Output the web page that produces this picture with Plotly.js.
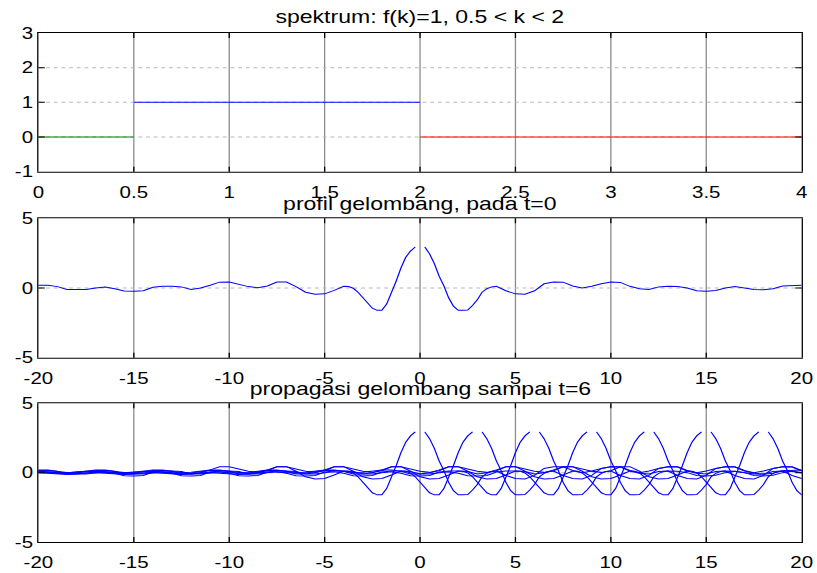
<!DOCTYPE html>
<html>
<head>
<meta charset="utf-8">
<script src="https://cdn.plot.ly/plotly-3.0.1.min.js"></script>
<style>
html,body{margin:0;padding:0;background:#fff;}
#wrap{width:817px;height:573px;overflow:hidden;position:relative;}
#plot{width:638px;height:573px;transform:scaleX(1.2806);transform-origin:0 0;}
#plot .crisp, #plot path.crisp, #plot .gridlayer path, #plot .xgrid, #plot .ygrid {shape-rendering:auto !important;}
</style>
</head>
<body>
<div id="wrap"><div id="plot"></div></div>
<script>
// ---- spectrum (top panel) ----
const kGreen = [0, 0.5];  const fGreen = [0, 0];
const kBlue  = [0.5, 2];  const fBlue  = [1, 1];
const kRed   = [2, 4];    const fRed   = [0, 0];

// ---- wave profile at t=0 (null at x=0) ----
const profileX = [
 -38,-37.5,-37,-36.5,-36,-35.5,-35,-34.5,-34,-33.5,-33,-32.5,-32,-31.5,-31,-30.5,-30,-29.5,-29,-28.5,
 -28,-27.5,-27,-26.5,-26,-25.5,-25,-24.5,-24,-23.5,-23,-22.5,-22,-21.5,-21,-20.5,
 -20,-19.5,-19,-18.5,-18,-17.5,-17,-16.5,-16,-15.5,-15,-14.5,-14,-13.5,-13,-12.5,-12,-11.5,-11,-10.5,
 -10,-9.5,-9,-8.5,-8,-7.5,-7,-6.5,-6,-5.5,-5,-4.5,-4,
 -3.75,-3.5,-3.25,-3,-2.75,-2.5,-2.25,-2,-1.75,-1.5,-1.25,-1,-0.75,-0.5,-0.25,0,
 0.25,0.5,0.75,1,1.25,1.5,1.75,2,2.25,2.5,2.75,3,3.25,3.5,3.75,
 4,4.5,5,5.5,6,6.5,7,7.5,8,8.5,9,9.5,10,10.5,11,11.5,12,12.5,13,13.5,14,14.5,15,15.5,16,16.5,17,17.5,18,18.5,19,19.5,20
];
const profileY = [
 0.02,-0.02,-0.04,-0.01,0.06,0.10,0.10,0.05,0.00,0.00,0.04,0.08,0.08,0.01,-0.06,-0.09,-0.06,-0.01,0.00,-0.04,
 -0.11,-0.14,-0.10,-0.02,0.04,0.04,-0.02,-0.05,-0.02,0.07,0.15,0.16,0.09,0.01,0.02,0.12,
 0.19,0.19,0.10,-0.10,-0.12,-0.10,0.00,0.07,-0.05,-0.22,-0.24,-0.20,0.05,0.12,0.12,0.08,-0.10,0.00,0.20,0.42,
 0.43,0.25,0.10,0.02,0.14,0.43,0.43,0.10,-0.30,-0.45,-0.42,-0.17,0.12,
 0.10,-0.02,-0.30,-0.70,-1.05,-1.45,-1.60,-1.60,-1.15,-0.40,0.50,1.45,2.20,2.65,2.94,null,
 2.94,2.45,1.75,0.85,0.15,-0.70,-1.30,-1.60,-1.60,-1.58,-1.25,-0.85,-0.30,-0.05,0.08,
 0.12,-0.20,-0.42,-0.45,-0.20,0.30,0.43,0.42,0.15,0.00,0.12,0.30,0.43,0.40,0.12,-0.05,-0.10,0.08,0.12,0.10,0.00,-0.20,-0.24,-0.18,0.00,0.10,-0.02,-0.10,-0.12,-0.05,0.14,0.19,0.19
];

// ---- propagation: profile moved along x for t = 0..6 ----
const shifts = [0, 3, 6, 9, 12, 15, 18];

// ---- ticks ----
const kTicks = [0,0.5,1,1.5,2,2.5,3,3.5,4];
const kTickText = ["0","0.5","1","1.5","2","2.5","3","3.5","4"];
const fTicks = [-1,0,1,2,3];
const fTickText = ["-1","0","1","2","3"];
const xTicks = [-20,-15,-10,-5,0,5,10,15,20];
const xTickText = ["-20","-15","-10","-5","0","5","10","15","20"];
const yTicks = [-5,0,5];
const yTickText = ["-5","0","5"];

const titles = ["spektrum: f(k)=1, 0.5 < k < 2", "profil gelombang, pada t=0", "propagasi gelombang sampai t=6"];

const FONT = "Liberation Sans, Arial, Helvetica, sans-serif";
const lineW = 1;

const traces = [
  {x:kGreen, y:fGreen, mode:'lines', line:{color:'#008000', width:lineW}, xaxis:'x', yaxis:'y'},
  {x:kBlue,  y:fBlue,  mode:'lines', line:{color:'#0000FF', width:lineW}, xaxis:'x', yaxis:'y'},
  {x:kRed,   y:fRed,   mode:'lines', line:{color:'#FF0000', width:lineW}, xaxis:'x', yaxis:'y'},
  {x:profileX, y:profileY, mode:'lines', line:{color:'#0000FF', width:lineW}, xaxis:'x2', yaxis:'y2', connectgaps:false}
];
shifts.forEach(s => {
  traces.push({x:profileX.map(v => v + s), y:profileY, mode:'lines',
    line:{color:'#0000FF', width:lineW}, xaxis:'x3', yaxis:'y3', connectgaps:false});
});

function xAx(range, tv, tt, anchor){
  return {range:range, tickvals:tv, ticktext:tt, anchor:anchor, domain:[0,1],
    showgrid:true, gridcolor:'#8a8a8a', gridwidth:1, zeroline:false,
    showline:true, linecolor:'#000', linewidth:1, mirror:'ticks',
    ticks:'inside', ticklen:5, tickcolor:'#000', tickwidth:1,
    tickfont:{family:FONT, size:16, color:'#000'}, ticklabelstandoff:6, fixedrange:true};
}
function yAx(range, tv, tt, anchor, dom){
  return {range:range, tickvals:tv, ticktext:tt, anchor:anchor, domain:dom,
    showgrid:true, gridcolor:'#b8b8b8', gridwidth:1, griddash:'dot', zeroline:false,
    showline:true, linecolor:'#000', linewidth:1, mirror:'ticks',
    ticks:'inside', ticklen:5, tickcolor:'#000', tickwidth:1,
    tickfont:{family:FONT, size:16, color:'#000'}, ticklabelstandoff:0, fixedrange:true};
}

const layout = {
  width:638, height:573,
  margin:{l:30, r:12, t:33, b:31},
  paper_bgcolor:'#fff', plot_bgcolor:'#fff',
  showlegend:false,
  font:{family:FONT, size:16, color:'#000'},
  xaxis:  xAx([0,4], kTicks, kTickText, 'y'),
  yaxis:  yAx([-1,3], fTicks, fTickText, 'x', [0.7275,1]),
  xaxis2: xAx([-20,20], xTicks, xTickText, 'y2'),
  yaxis2: yAx([-5,5], yTicks, yTickText, 'x2', [0.362,0.636]),
  xaxis3: xAx([-20,20], xTicks, xTickText, 'y3'),
  yaxis3: yAx([-5,5], yTicks, yTickText, 'x3', [0,0.2725]),
  annotations:[
    {text:titles[0], xref:'paper', yref:'paper', x:0.5, y:1.0315, xanchor:'center', yanchor:'middle', showarrow:false, font:{family:FONT, size:18, color:'#000'}},
    {text:titles[1], xref:'paper', yref:'paper', x:0.5, y:0.664, xanchor:'center', yanchor:'middle', showarrow:false, font:{family:FONT, size:18, color:'#000'}},
    {text:titles[2], xref:'paper', yref:'paper', x:0.5, y:0.3006, xanchor:'center', yanchor:'middle', showarrow:false, font:{family:FONT, size:18, color:'#000'}}
  ]
};

Plotly.newPlot('plot', traces, layout, {displayModeBar:false, staticPlot:true});
</script>
</body>
</html>
